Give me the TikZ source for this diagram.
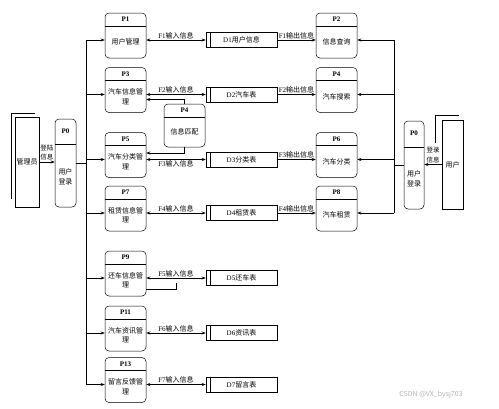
\documentclass[tikz,border=0pt]{standalone}
\usepackage{fontspec}
\setmainfont{Noto Sans CJK SC}
\newfontfamily\latin{Liberation Serif}
\usetikzlibrary{arrows.meta}

\tikzset{
  proc/.style={draw, rounded corners=4pt, minimum width=41pt, minimum height=45pt, inner sep=0pt},
  pzero/.style={draw, rounded corners=4pt, minimum width=21pt, minimum height=88pt, inner sep=0pt},
  store/.style={draw, minimum width=71pt, minimum height=15pt, inner sep=0pt, font=\fontsize{7}{8}\selectfont},
  entity/.style={draw, inner sep=0pt},
  pid/.style={font=\fontsize{7}{8}\selectfont\latin\bfseries, inner sep=0pt},
  ptxt/.style={font=\fontsize{7}{9.5}\selectfont, align=center, inner sep=0pt},
  flow/.style={font=\fontsize{7}{8}\selectfont, inner sep=1pt},
  side/.style={font=\fontsize{6.5}{9.5}\selectfont, align=center, inner sep=1.5pt},
}

% process box with header line
\newcommand{\procbox}[4]{%
  \node[proc] (#1) at (#2) {};
  \draw ([yshift=-13pt]#1.north west) -- ([yshift=-13pt]#1.north east);
  \node[pid] (#1-id) at ([yshift=-6.5pt]#1.north) {#3};
  \node[ptxt] (#1-txt) at ([yshift=-6.5pt]#1.center) {#4};
}

\begin{document}
\begin{tikzpicture}[x=1pt, y=-1pt, line width=0.5pt, >={Stealth[length=4pt,width=3pt]}]
    \useasboundingbox (0,0) rectangle (499,408);

    % External entities
    \node[entity, minimum width=24pt, minimum height=90pt] (adm) at (27,162) {};
    \node[ptxt] (adm-txt) at (adm.center) {管理员};
    \draw ([shift={(-4pt,8pt)}]adm.south west) -- ([shift={(-4pt,4pt)}]adm.north west) -- ([shift={(-4pt,4pt)}]adm.north east);
    \node[entity, minimum width=21pt, minimum height=89pt] (usr) at (452.5,164.5) {};
    \node[ptxt] (usr-txt) at (usr.center) {用户};
    \draw ([shift={(-7pt,-23pt)}]usr.north west) -- ([shift={(-7pt,5pt)}]usr.north west) -- ([shift={(-4pt,5pt)}]usr.north east);

    % Login processes
    \node[pzero] (lp0) at (65.5,163) {};
    \draw ([yshift=-25pt]lp0.north west) -- ([yshift=-25pt]lp0.north east);
    \node[pid] (lp0-id) at ([yshift=-12.5pt]lp0.north) {P0};
    \node[ptxt] (lp0-txt) at ([yshift=-14pt]lp0.center) {用户\\登录};
    \node[pzero, minimum width=20pt] (rp0) at (414,165) {};
    \draw ([yshift=-26pt]rp0.north west) -- ([yshift=-26pt]rp0.north east);
    \node[pid] (rp0-id) at ([yshift=-12.5pt]rp0.north) {P0};
    \node[ptxt] (rp0-txt) at ([yshift=-14pt]rp0.center) {用户\\登录};

    % Left processes
    \procbox{p1}{125.5,35.5}{P1}{用户管理}
    \procbox{p3}{125.5,90}{P3}{汽车信息管\\理}
    \procbox{p5}{125.5,155}{P5}{汽车分类管\\理}
    \procbox{p7}{125.5,208.5}{P7}{租赁信息管\\理}
    \procbox{p9}{125.5,273.5}{P9}{还车信息管\\理}
    \procbox{p11}{125.5,328.5}{P11}{汽车资讯管\\理}
    \procbox{p13}{125.5,380}{P13}{留言反馈管\\理}

    % Right processes
    \procbox{p2}{336.5,35.5}{P2}{信息查询}
    \procbox{p4}{336.5,90}{P4}{汽车搜索}
    \procbox{p6}{336.5,155}{P6}{汽车分类}
    \procbox{p8}{336.5,208.5}{P8}{汽车租赁}

    % Matching process
    \node[proc, minimum height=43pt] (pm) at (184.5,125.5) {};
    \draw ([yshift=-13pt]pm.north west) -- ([yshift=-13pt]pm.north east);
    \node[pid] (pm-id) at ([yshift=-6.5pt]pm.north) {P4};
    \node[ptxt] (pm-txt) at ([yshift=-6.5pt]pm.center) {信息匹配};

    % Data stores
    \node[store] (d1) at (241.5,40) {{\latin D1}用户信息};
    \node[store] (d2) at (241.5,94.5) {{\latin D2}汽车表};
    \node[store] (d3) at (241.5,159.5) {{\latin D3}分类表};
    \node[store] (d4) at (241.5,213) {{\latin D4}租赁表};
    \node[store] (d5) at (241.5,278) {{\latin D5}还车表};
    \node[store] (d6) at (241.5,333) {{\latin D6}资讯表};
    \node[store] (d7) at (241.5,384.5) {{\latin D7}留言表};
    \foreach \d in {d1,d2,d3,d4,d5,d6,d7}
        \draw ([xshift=4pt]\d.north west) -- ([xshift=4pt]\d.south west);

    % Login flows
    \draw[->] (adm.east) -- node[side, above] (lf-l) {登陆\\信息} (adm.east -| lp0.west);
    \draw[->] (usr.west) -- node[side, above] (lf-r) {登录\\信息} (usr.west -| rp0.east);

    % Left bus
    \coordinate (lbus) at (86,163);
    \draw (lp0.east) -- (lbus);
    \draw (lbus |- d1) -- (lbus |- d7);
    \foreach \p/\d in {p1/d1,p3/d2,p5/d3,p7/d4,p9/d5,p11/d6,p13/d7}
        \draw[->] (lbus |- \d) -- (\p.west |- \d);

    % Right bus
    \coordinate (rbus) at (394,165);
    \draw (rp0.west) -- (rbus);
    \draw (rbus |- d1) -- (rbus |- d4);
    \foreach \p/\d in {p2/d1,p4/d2,p6/d3,p8/d4}
        \draw[->] (rbus |- \d) -- (\p.east |- \d);

    % Input flows
    \foreach \p/\d/\f/\pos in {p1/d1/1/above,p3/d2/2/above,p5/d3/3/below,p7/d4/4/above,p9/d5/5/above,p11/d6/6/above,p13/d7/7/above}
        \draw[<->] (\p.east |- \d) -- node[flow, \pos] {{\latin F\f}输入信息} (\d.west);

    % Output flows
    \foreach \d/\p/\f in {d1/p2/1,d2/p4/2,d3/p6/3,d4/p8/4}
        \draw[->] (\d.east) -- node[flow, above] {{\latin F\f}输出信息} (\p.west |- \d);

    % Matching links
    \draw[->] (pm.north) |- ([yshift=-9.5pt]p3.east);
    \draw[->] (pm.south) |- ([yshift=2pt]p5.east);
    \draw ([yshift=-15.5pt]p9.east) -- ++(30,0) -- ++(0,-6);

    % Watermark
    \node[font=\fontsize{7}{8}\selectfont, text=gray!60] (wm) at (431,395) {CSDN @VX\_bysj703};
\end{tikzpicture}
\end{document}
